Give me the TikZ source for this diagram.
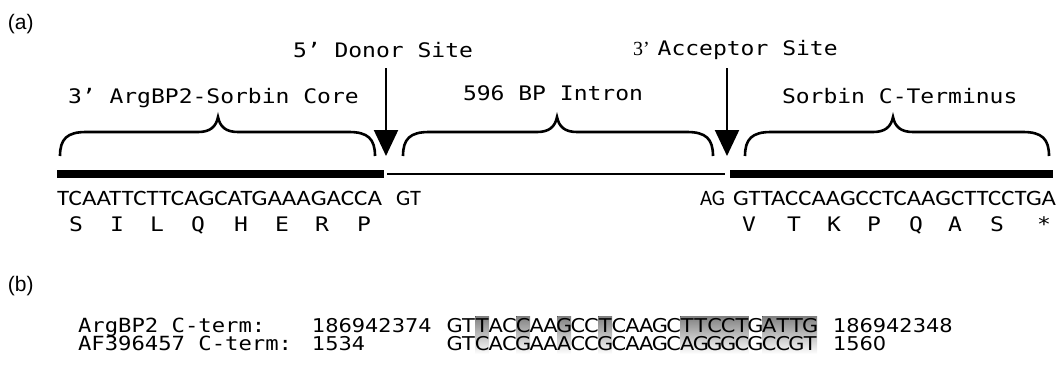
\documentclass[tikz,border=0pt]{standalone}
\usepackage{fontspec}
\usepackage{graphicx}
\usetikzlibrary{arrows.meta}
\newfontfamily\labf[FakeStretch=1.15]{DejaVu Sans Mono}
\newfontfamily\blabf[FakeStretch=1.14]{DejaVu Sans Mono}
\newfontfamily\seqf{Carlito}
\newfontfamily\numf[FakeStretch=1.1]{DejaVu Sans}
\newfontfamily\panf{Liberation Sans}
\newfontfamily\serf{Liberation Serif}
\definecolor{shade}{HTML}{C4C4C4}
\newcommand\curlyb[4]{% #1 name, #2 left x, #3 tip x, #4 right x
  \draw[bracestyle] (#2,156) .. controls (#2,139) and ({#2+7},132) .. ({#2+26},132)
    -- ({#3-20},132) .. controls ({#3-8},132) and ({#3-2},127) .. (#3,117)
    coordinate (#1)
    .. controls ({#3+2},127) and ({#3+8},132) .. ({#3+20},132)
    -- ({#4-26},132) .. controls ({#4-7},132) and (#4,139) .. (#4,156);}
\begin{document}
\begin{tikzpicture}[x=1pt,y=-1pt,
  every node/.style={inner sep=0pt,outer sep=0pt},
  lab/.style={anchor=base west,font=\labf\fontsize{20}{20}\selectfont},
  aa/.style={anchor=base,font=\labf\fontsize{20}{20}\selectfont},
  seq/.style={anchor=base west,font=\seqf\fontsize{22}{22}\selectfont},
  pan/.style={anchor=base west,font=\panf\fontsize{21}{21}\selectfont},
  blab/.style={anchor=base west,font=\blabf\fontsize{19.5}{19.5}\selectfont},
  bnum/.style={anchor=base west,font=\numf\fontsize{19}{19}\selectfont},
  bseq/.style={anchor=base,font=\numf\fontsize{19}{19}\selectfont},
  bracestyle/.style={line width=2.6pt},
  site/.style={line width=2.2pt,-{Triangle[width=24pt,length=26pt]}},
  thick bar/.style={line width=7.5pt},
  thin bar/.style={line width=2pt}]
\useasboundingbox (0,0) rectangle (1064,367);

% panel b shading (mismatch columns), drawn first
\def\cw{13.67}
\foreach \s/\e in {3/3,6/6,9/9,12/12,18/22,24/27}
  \fill[shade] ({448+(\s-1)*\cw},316) rectangle ({448+\e*\cw},354);

% panel labels
\node[pan] (pa) at (8,29) {(a)};
\node[pan] (pb) at (8,291) {(b)};

% top labels
\node[lab] (donor) at (293,57) {5’ Donor Site};
\node[lab] (acc) at (633,55) {{\serf\fontsize{20}{20}\selectfont 3’}\hspace{8pt}Acceptor Site};
\node[lab] (core) at (68,103) {3’ ArgBP2-Sorbin Core};
\node[lab] (intron) at (463,100) {596 BP Intron};
\node[lab] (cterm) at (782,103) {Sorbin C-Terminus};

% arrows
\coordinate (dtop) at (386,68);
\coordinate (dtip) at (386,156);
\coordinate (atop) at (727,68);
\coordinate (atip) at (727,156);
\draw[site] (dtop) -- (dtip);
\draw[site] (atop) -- (atip);

% braces
\curlyb{b1}{60}{218}{375}
\curlyb{b2}{403}{557}{713}
\curlyb{b3}{745}{893}{1049}

% bars
\coordinate (l1) at (57,174); \coordinate (l2) at (384,174);
\coordinate (m1) at (387,174); \coordinate (m2) at (725,174);
\coordinate (r1) at (730,174); \coordinate (r2) at (1053,174);
\draw[thick bar] (l1) -- (l2);
\draw[thin bar] (m1) -- (m2);
\draw[thick bar] (r1) -- (r2);

% sequences
\node[seq] (s1) at (57,205) {\resizebox{325pt}{\height}{TCAATTCTTCAGCATGAAAGACCA}};
\node[seq] (s2) at (396,205) {\resizebox{25pt}{\height}{GT}};
\node[seq] (s3) at (700,205) {\resizebox{25pt}{\height}{AG}};
\node[seq] (s4) at (733,205) {\resizebox{323pt}{\height}{GTTACCAAGCCTCAAGCTTCCTGA}};

% amino acids
\foreach \a/\x [count=\i] in {S/76,I/117,L/157,Q/198,H/241,E/282,R/322,P/364}
  \node[aa] (al\i) at (\x,231) {\a};
\foreach \a/\x [count=\i] in {V/749,T/794,K/834,P/874,Q/916,A/955,S/997,*/1044}
  \node[aa] (ar\i) at (\x,231) {\a};

% panel b text
\node[blab] (n1) at (78,332) {ArgBP2 C-term:};
\node[blab] (n2) at (78,350) {AF396457 C-term:};
\node[bnum] (p1) at (312,332) {186942374};
\node[bnum] (p2) at (312,350) {1534};
\node[bnum] (q1) at (833,332) {186942348};
\node[bnum] (q2) at (833,350) {1560};
\node[bseq,anchor=base west] (ua) at (448,332) {\foreach \c in {G,T,T,A,C,C,A,A,G,C,C,T,C,A,A,G,C,T,T,C,C,T,G,A,T,T,G}{\makebox[\cw pt]{\c}}};
\node[bseq,anchor=base west] (ub) at (448,350) {\foreach \c in {G,T,C,A,C,G,A,A,A,C,C,G,C,A,A,G,C,A,G,G,G,C,G,C,C,G,T}{\makebox[\cw pt]{\c}}};
\end{tikzpicture}
\end{document}
